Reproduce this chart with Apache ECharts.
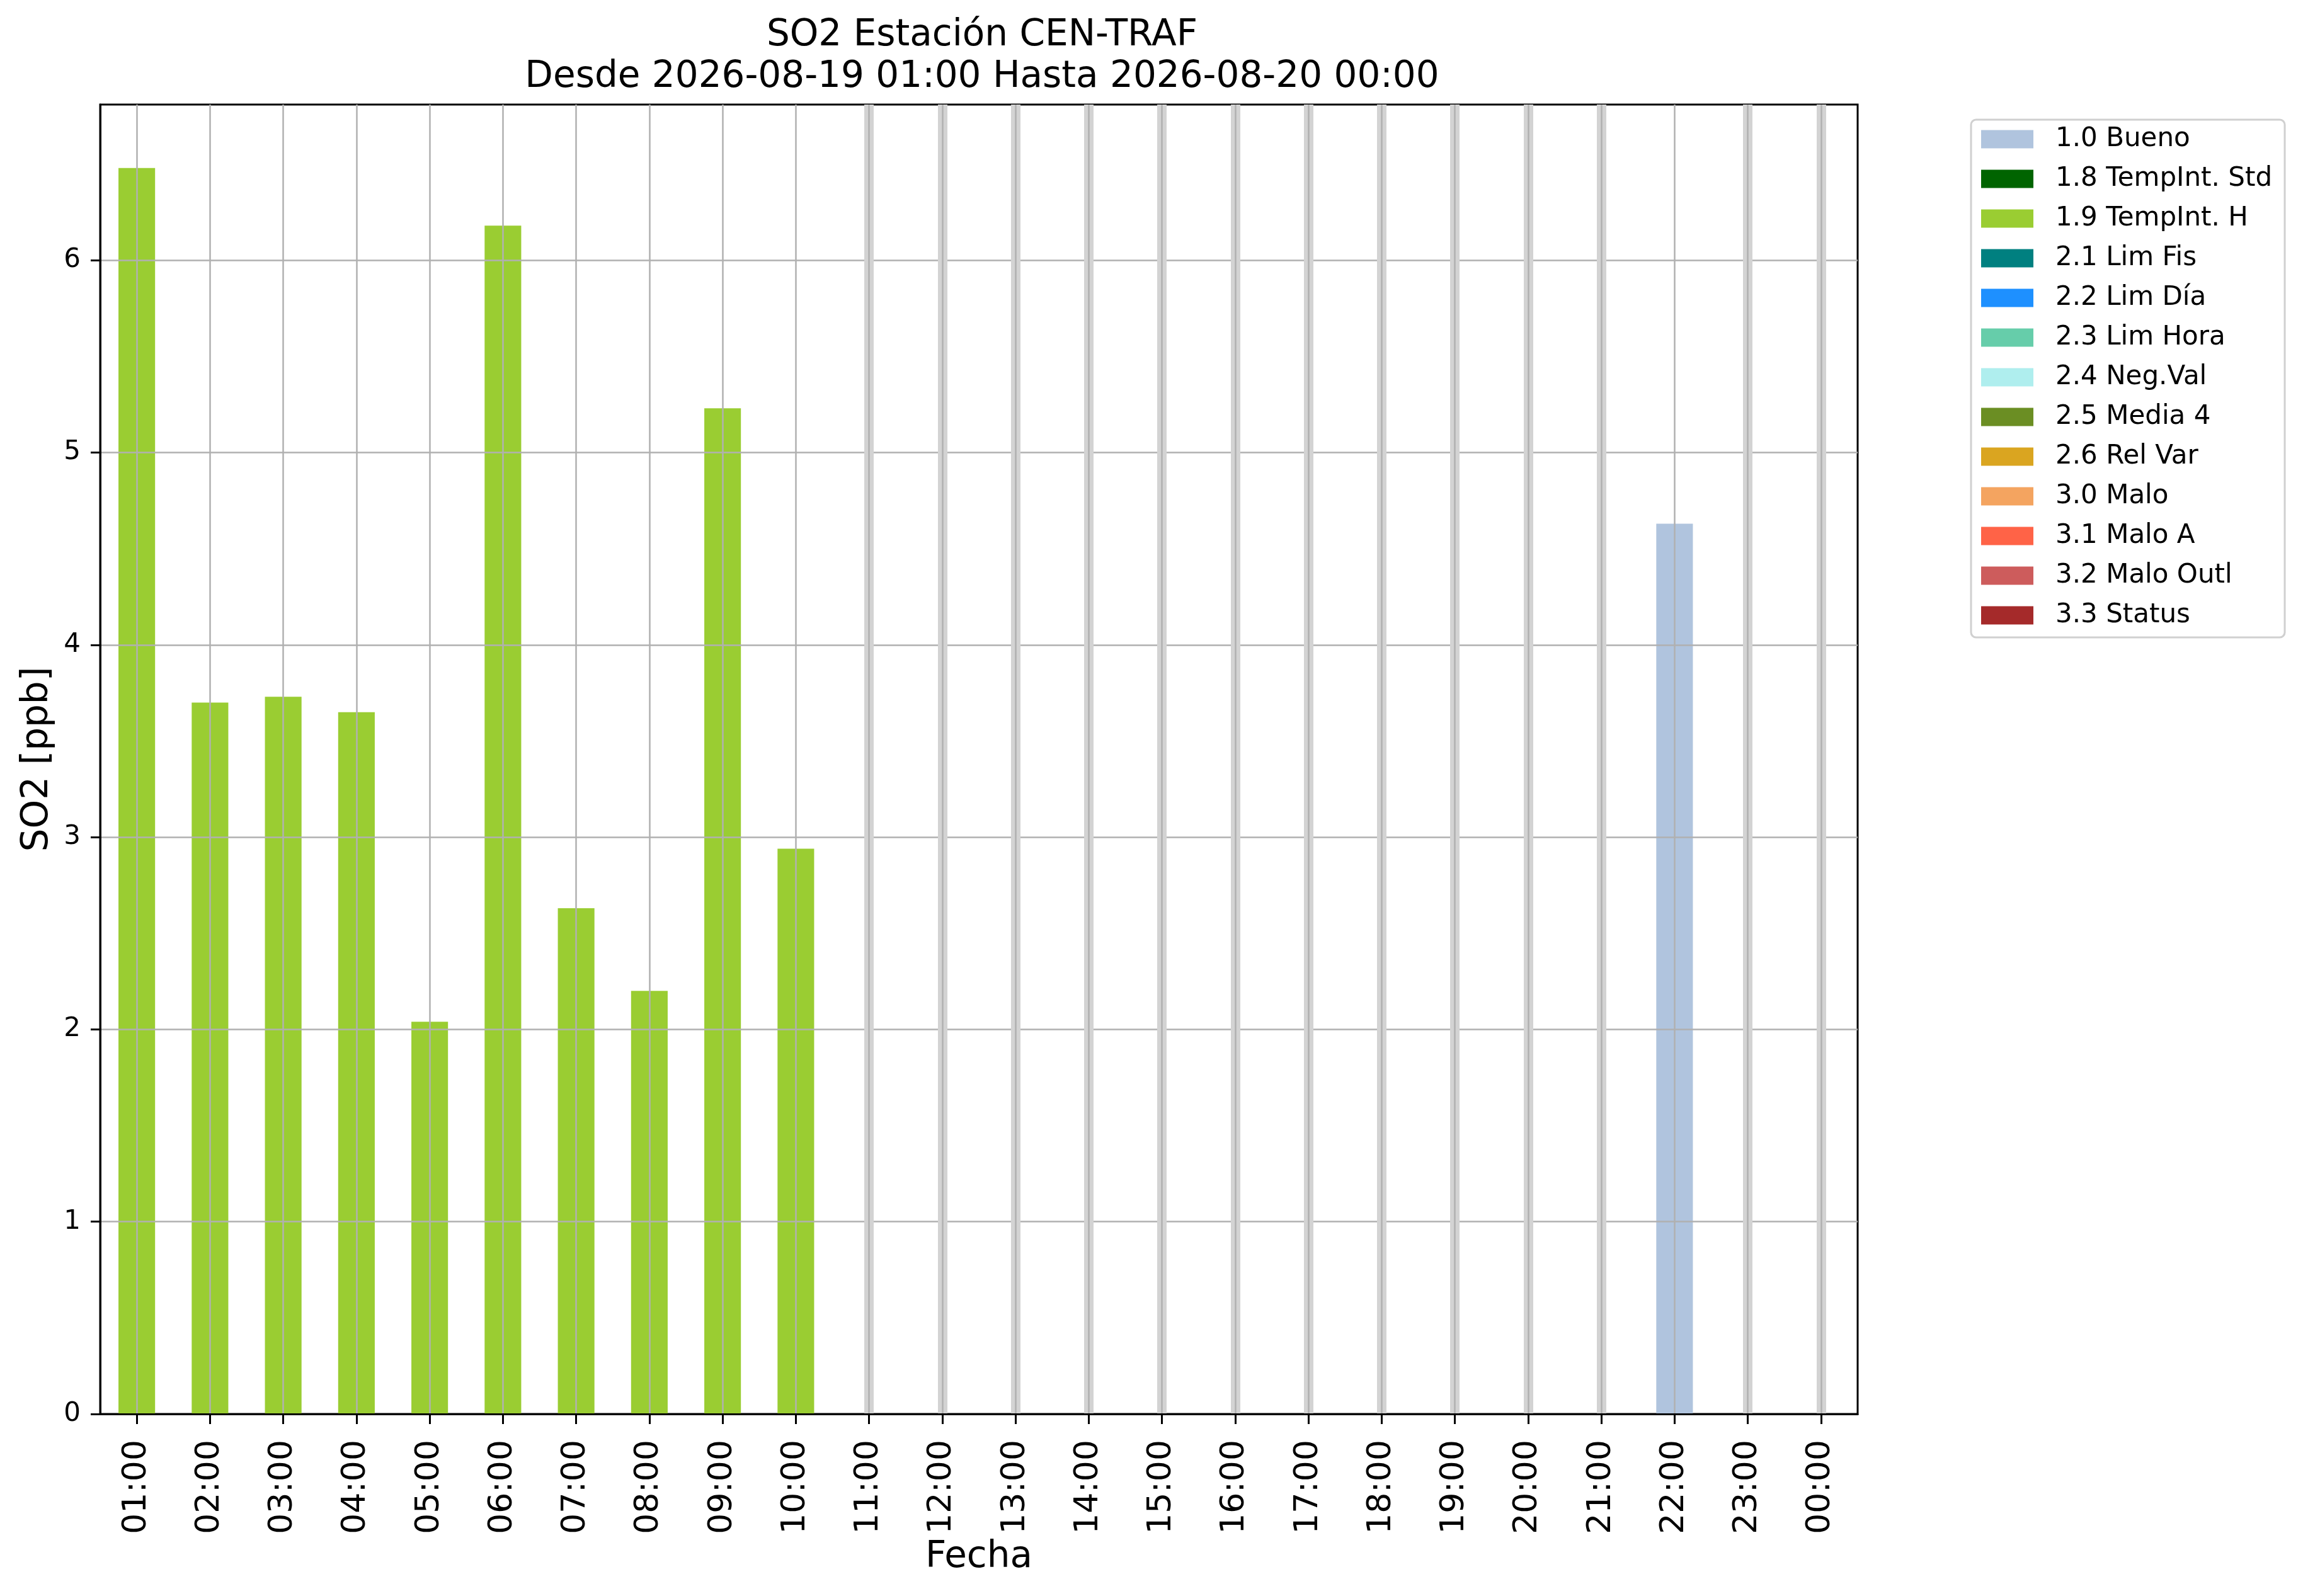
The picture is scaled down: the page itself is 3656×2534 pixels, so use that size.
<!DOCTYPE html>
<html><head><meta charset="utf-8">
<script src="https://cdn.jsdelivr.net/npm/echarts@6/dist/echarts.min.js"></script>
<style>html,body{margin:0;padding:0;background:#fff}#c{width:3656px;height:2534px}</style>
</head><body><div id="c"></div>
<script>
const hours = ['01:00','02:00','03:00','04:00','05:00','06:00','07:00','08:00','09:00','10:00','11:00','12:00',
  '13:00','14:00','15:00','16:00','17:00','18:00','19:00','20:00','21:00','22:00','23:00','00:00'];
const flagLabels = ['1.0 Bueno','1.8 TempInt. Std','1.9 TempInt. H','2.1 Lim Fis','2.2 Lim Día','2.3 Lim Hora',
  '2.4 Neg.Val','2.5 Media 4','2.6 Rel Var','3.0 Malo','3.1 Malo A','3.2 Malo Outl','3.3 Status'];
const valuesBueno = [null,null,null,null,null,null,null,null,null,null,null,null,
  null,null,null,null,null,null,null,null,null,4.63,null,null];
const valuesTempIntH = [6.48,3.70,3.73,3.65,2.04,6.18,2.63,2.20,5.23,2.94,null,null,
  null,null,null,null,null,null,null,null,null,null,null,null];
const yTicks = [0,1,2,3,4,5,6];
const yMax = 6.81;
const titleText = 'SO2 Estación CEN-TRAF\nDesde 2026-08-19 01:00 Hasta 2026-08-20 00:00';

const flagColors = ['#B0C4DE','#006400','#9ACD32','#008080','#1E90FF','#66CDAA','#AFEEEE','#6B8E23',
  '#DAA520','#F4A460','#FF6347','#CD5C5C','#A52A2A'];
const seriesValues = {'1.0 Bueno': valuesBueno, '1.9 TempInt. H': valuesTempIntH};
const empty = hours.map(() => null);
const missingHours = hours.filter((h, i) =>
  flagLabels.every(l => (seriesValues[l] || empty)[i] == null));

const FONT = 'DejaVu Sans';
const series = flagLabels.map((l, k) => ({
  name: l, type: 'bar', stack: 'total', barWidth: '50%', z: 2,
  itemStyle: {color: flagColors[k]},
  data: (seriesValues[l] || empty).slice(),
  animation: false
}));
// light gray bands marking hours without data
series.push({
  name: 'missing', type: 'line', data: empty.slice(), z: 1, showSymbol: false, animation: false,
  markLine: {
    silent: true, symbol: ['none','none'], label: {show: false}, animation: false,
    lineStyle: {color: '#d3d3d3', width: 15, type: 'solid'},
    emphasis: {disabled: true},
    data: missingHours.map(h => ({xAxis: h}))
  }
});
// vertical grid lines at category centres, drawn above the bars
series.push({
  name: 'xgrid', type: 'line', data: empty.slice(), z: 3, showSymbol: false, animation: false,
  markLine: {
    silent: true, symbol: ['none','none'], label: {show: false}, animation: false,
    lineStyle: {color: '#b0b0b0', width: 2.5, type: 'solid'},
    emphasis: {disabled: true},
    data: hours.map(h => ({xAxis: h}))
  }
});

const chart = echarts.init(document.getElementById('c'), null, {renderer: 'canvas'});
chart.setOption({
  backgroundColor: '#fff',
  animation: false,
  textStyle: {fontFamily: FONT},
  title: {
    text: titleText, left: 1554, top: 19, textAlign: 'center',
    textStyle: {fontFamily: FONT, fontWeight: 'normal', fontSize: 58, lineHeight: 66, color: '#000'}
  },
  legend: {
    data: flagLabels, orient: 'vertical', left: 3129, top: 190,
    icon: 'rect', itemWidth: 83, itemHeight: 29, itemGap: 21,
    padding: [10, 20, 14, 16],
    backgroundColor: '#fff', borderColor: '#d0d0d0', borderWidth: 3, borderRadius: 8,
    textStyle: {fontFamily: FONT, fontSize: 42, lineHeight: 42, color: '#000', padding: [0,0,0,30]},
    selectedMode: false
  },
  grid: {left: 159, top: 166, right: 707, bottom: 289, show: true, borderColor: '#000', borderWidth: 3, z: 0},
  xAxis: {
    type: 'category', data: hours, z: 5,
    name: 'Fecha', nameLocation: 'middle', nameGap: 191,
    nameTextStyle: {fontFamily: FONT, fontSize: 58, color: '#000'},
    axisLine: {show: true, lineStyle: {color: '#000', width: 3}},
    axisTick: {show: true, alignWithLabel: true, length: 16, lineStyle: {color: '#000', width: 3}},
    axisLabel: {rotate: 90, fontFamily: FONT, fontSize: 52, color: '#000', margin: 41, interval: 0},
    splitLine: {show: false}
  },
  yAxis: {
    type: 'value', min: 0, max: yMax, interval: 1, z: 5,
    name: 'SO2 [ppb]', nameLocation: 'middle', nameGap: 70,
    nameTextStyle: {fontFamily: FONT, fontSize: 58, color: '#000'},
    axisLine: {show: true, lineStyle: {color: '#000', width: 3}},
    axisTick: {show: true, length: 15, lineStyle: {color: '#000', width: 3}, customValues: yTicks},
    axisLabel: {fontFamily: FONT, fontSize: 42, color: '#000', margin: 31, customValues: yTicks},
    splitLine: {show: true, lineStyle: {color: '#b0b0b0', width: 2.5}}
  },
  series: series
});
</script>
</body></html>
